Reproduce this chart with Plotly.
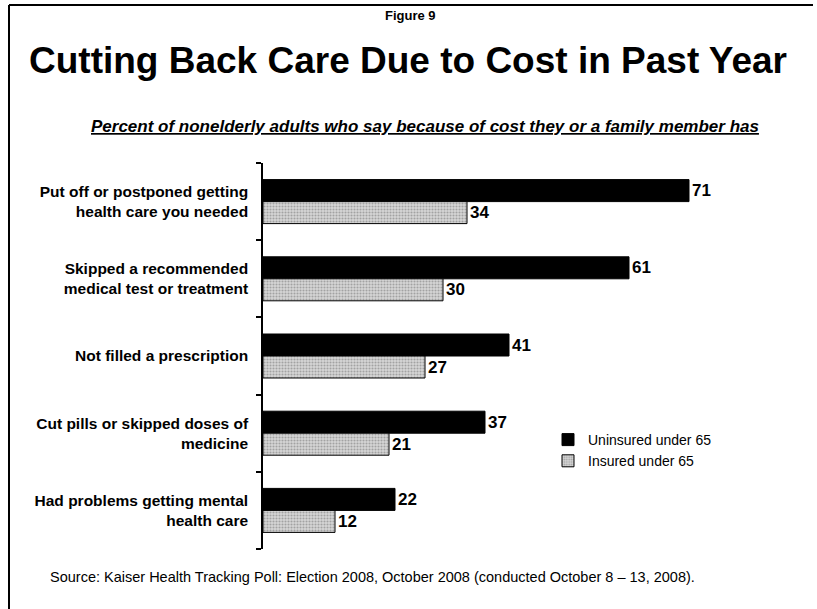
import plotly.graph_objects as go

# Survey items (top to bottom) and shares of nonelderly adults, in percent
categories = [
    "Put off or postponed getting<br>health care you needed",
    "Skipped a recommended<br>medical test or treatment",
    "Not filled a prescription",
    "Cut pills or skipped doses of<br>medicine",
    "Had problems getting mental<br>health care",
]
uninsured = [71, 61, 41, 37, 22]
insured = [34, 30, 27, 21, 12]
series_names = ["Uninsured under 65", "Insured under 65"]

W, H = 817, 609
ARIAL = "Liberation Sans, Arial, sans-serif"


def px(x):
    return x / W


def py(y):
    return 1 - y / H


fig = go.Figure()
fig.add_trace(go.Bar(
    y=categories, x=uninsured, orientation="h", name=series_names[0],
    marker=dict(color="#000000", line=dict(color="#000000", width=1)),
    text=[str(v) for v in uninsured], textposition="outside",
    textfont=dict(family=ARIAL, size=17, color="#000000"),
    texttemplate="<b>%{text}</b>", cliponaxis=False,
))
fig.add_trace(go.Bar(
    y=categories, x=insured, orientation="h", name=series_names[1],
    marker=dict(
        color="#cfcfcf",
        line=dict(color="#000000", width=1),
        pattern=dict(shape=".", fgcolor="#6e6e6e", bgcolor="#d6d6d6",
                     size=3, solidity=0.4, fillmode="overlay"),
    ),
    text=[str(v) for v in insured], textposition="outside",
    textfont=dict(family=ARIAL, size=17, color="#000000"),
    texttemplate="<b>%{text}</b>", cliponaxis=False,
))

fig.update_layout(
    width=W, height=H,
    margin=dict(l=0, r=0, t=0, b=0),
    paper_bgcolor="white", plot_bgcolor="white",
    barmode="group", bargap=0.43, bargroupgap=0.0,
    showlegend=True,
    legend=dict(
        x=px(548), y=py(424), xanchor="left", yanchor="top",
        font=dict(family=ARIAL, size=14, color="#000000"),
        bgcolor="rgba(0,0,0,0)", tracegroupgap=2,
    ),
    xaxis=dict(
        domain=[px(263), px(803)], range=[0, 90],
        visible=False, showgrid=False, zeroline=False,
    ),
    yaxis=dict(
        domain=[py(549), py(163)],
        categoryorder="array", categoryarray=categories,
        autorange="reversed",
        showline=True, linecolor="#000000", linewidth=1.5,
        ticks="outside", ticklen=5, tickcolor="#000000", tickwidth=1.5,
        tickson="boundaries", ticklabelstandoff=10,
        tickfont=dict(family=ARIAL, size=15.5, color="#000000"),
        showgrid=False, zeroline=False,
    ),
)

# Bold category labels
fig.update_yaxes(ticktext=["<b>" + c + "</b>" for c in categories], tickvals=categories)

annotations = [
    dict(text="<b>Figure 9</b>", x=px(410), y=py(16), font=dict(family=ARIAL, size=13)),
    dict(text="<b>Cutting Back Care Due to Cost in Past Year</b>", x=px(408), y=py(61),
         font=dict(family=ARIAL, size=37)),
    dict(text="<b><i><u>Percent of nonelderly adults who say because of cost they or a family member has</u></i></b>",
         x=px(425), y=py(127), font=dict(family=ARIAL, size=17)),
    dict(text="Source: Kaiser Health Tracking Poll: Election 2008, October 2008 (conducted October 8 \u2013 13, 2008).",
         x=px(48), y=py(577), xanchor="left", font=dict(family=ARIAL, size=14.5)),
]
for a in annotations:
    a.setdefault("xanchor", "center")
    a.update(xref="paper", yref="paper", yanchor="middle", showarrow=False)
    a["font"]["color"] = "#000000"
    fig.add_annotation(**a)

# Frame lines along the top and left edges
fig.add_shape(type="line", xref="paper", yref="paper", x0=px(9), x1=px(813), y0=py(5), y1=py(5),
              line=dict(color="#000000", width=2))
fig.add_shape(type="line", xref="paper", yref="paper", x0=px(9), x1=px(9), y0=py(5), y1=0,
              line=dict(color="#000000", width=2))

fig.write_html("out.html")
